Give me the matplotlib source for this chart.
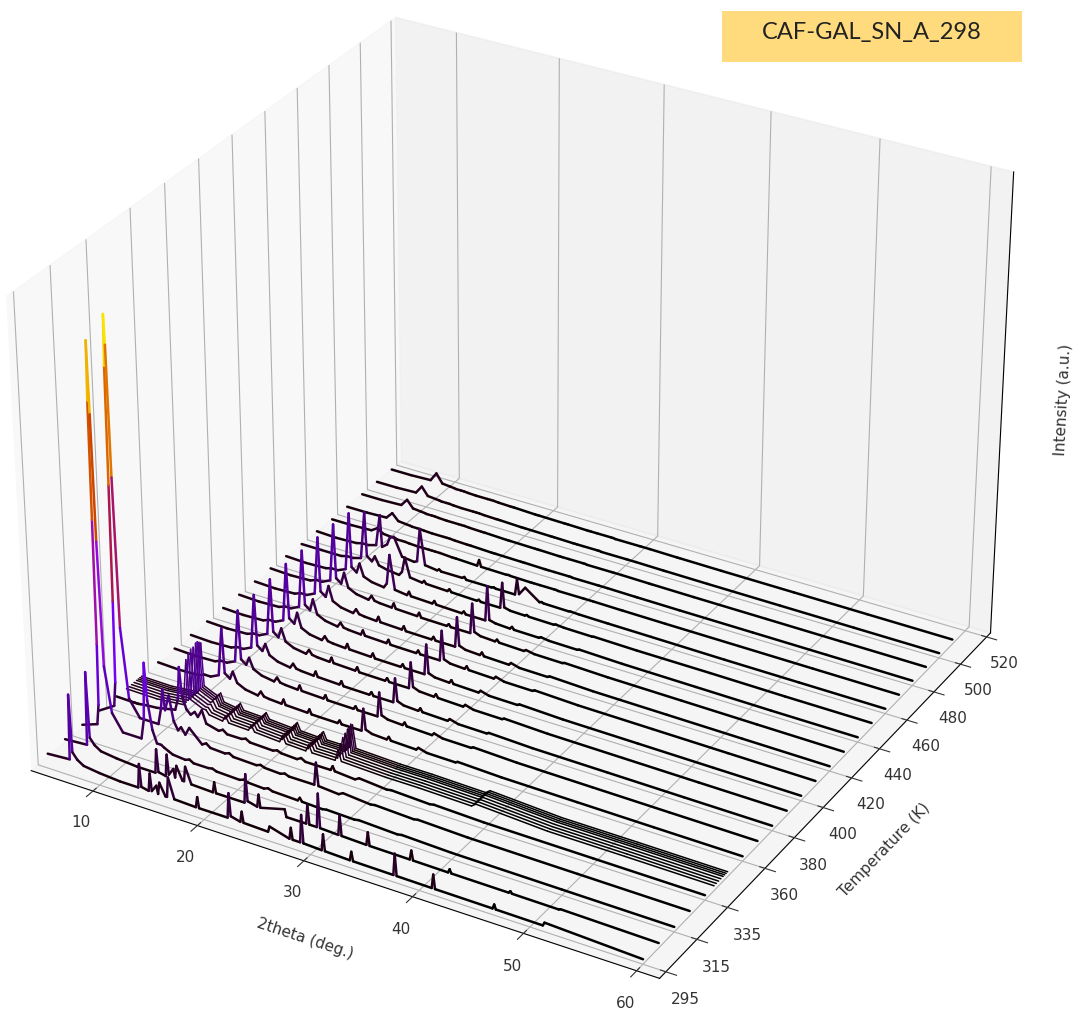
#!/usr/bin/env python3
"""Stacked XRD patterns over temperature, CAF-GAL_SN_A_298."""

import matplotlib
matplotlib.use("Agg")
import matplotlib.pyplot as plt
import numpy as np
from matplotlib.colors import Normalize
from matplotlib.patches import Rectangle
from mpl_toolkits.mplot3d.art3d import Line3DCollection

# ticks
x_ticks = [10, 20, 30, 40, 50, 60]
y_ticks = [295, 315, 335, 360, 380, 400, 420, 440, 460, 480, 500, 520]

# room-temperature phase, sharp peaks
tt_sharp = [5, 7.15, 7.3, 7.45, 7.9, 8.5, 10, 12, 13.75, 13.9, 14.05, 14.75, 14.9, 15.05, 15.5, 15.65, 15.8, 16.35, 16.5,
            16.65, 17.2, 19.25, 19.4, 19.55, 22.25, 22.4, 22.55, 23.45, 23.6, 23.75, 26.05, 26.2, 28.05, 28.2, 28.35,
            29.05, 29.2, 29.35, 31.05, 31.2, 31.35, 33.65, 33.8, 33.95, 37.65, 37.8, 37.95, 41.15, 41.3, 41.45, 46.65,
            46.8, 46.95, 51.15, 51.3, 60]
i_295 = [.036, .04, .2, .06, .045, .035, .03, .026, .026, .085, .03, .026, .07, .028, .045, .026, .055, .026, .026,
         .075, .026, .024, .05, .024, .024, .085, .03, .024, .05, .024, .022, .036, .022, .05, .022, .022, .09, .022,
         .02, .06, .02, .018, .04, .018, .017, .07, .017, .016, .05, .016, .015, .026, .015, .014, .022, .012]
i_305 = [.036, .04, .22, .06, .045, .035, .03, .026, .026, .085, .03, .026, .08, .032, .05, .03, .06, .028, .028,
         .065, .026, .024, .05, .024, .024, .095, .03, .024, .055, .024, .04, .022, .022, .07, .022, .022, .105, .022,
         .02, .07, .02, .018, .05, .018, .017, .04, .017, .016, .025, .016, .015, .02, .015, .014, .016, .012]

# tall peak phase, 315-335 K
tt_tall = [5, 6.5, 6.7, 6.8, 6.88, 6.95, 7.05, 7.12, 7.2, 7.4, 8.0, 9, 10.8, 11.1, 11.3, 11.5, 11.9, 12.3, 12.7, 13,
           13.4, 13.8, 15, 15.4, 15.8, 17.2, 17.6, 18, 20.2, 20.6, 21, 22.5, 22.9, 23.3, 25.7, 25.9, 26.1, 28, 28.4,
           31, 31.4, 35, 35.4, 40, 50, 60]
i_315 = [.036, .05, .1, .25, .55, .83, .97, .8, .5, .2, .09, .05, .05, .1, .24, .15, .08, .05, .05, .045, .04, .035,
         .032, .036, .03, .03, .032, .028, .026, .03, .026, .024, .028, .024, .022, .03, .022, .02, .022, .02, .022,
         .018, .02, .016, .014, .012]
i_325 = [.036, .06, .12, .32, .6, .88, 1.0, .93, .62, .26, .09, .05, .05, .09, .14, .09, .13, .07, .05, .06, .045,
         .065, .034, .04, .032, .03, .034, .028, .026, .03, .026, .024, .028, .024, .024, .08, .024, .02, .026, .02,
         .022, .018, .02, .016, .014, .012]
i_335 = [.036, .035, .035, .035, .035, .035, .035, .035, .035, .036, .038, .04, .05, .08, .16, .09, .06, .05, .06,
         .05, .07, .04, .032, .038, .03, .03, .034, .028, .026, .03, .026, .024, .03, .024, .024, .035, .024, .02,
         .026, .02, .022, .018, .02, .016, .014, .012]

# narrow stack of scans, 341-350 K
temp_cluster = [341, 342.5, 344, 345.5, 347, 348, 349, 350]
tt_cluster = [5, 8, 10.6, 11.0, 11.2, 12.5, 12.8, 13.1, 14.4, 14.7, 15, 16.9, 17.2, 17.5, 19.9, 20.2, 20.5, 22.4,
              22.7, 23, 25.2, 25.5, 25.8, 30, 33, 38, 38.4, 45, 52, 60]
i_cluster_base = [.034, .033, .04, .16, .06, .045, .05, .035, .03, .045, .03, .028, .042, .028, .024, .042, .024,
                  .022, .04, .022, .022, .08, .024, .02, .02, .017, .025, .015, .014, .012]
peak_11 = [.155, .165, .17, .17, .175, .175, .17, .165]
peak_13 = [.045, .045, .048, .05, .052, .052, .055, .055]
peak_25 = [.05, .06, .07, .075, .08, .08, .085, .08]

# high temperature scans, 360-510 K
tt_high = [5, 7, 9, 9.6, 10.2, 11.0, 11.4, 11.6, 12.1, 12.4, 12.8, 13.6, 14.8, 15.1, 15.4, 15.9, 17.1, 17.3, 17.5,
           19.6, 19.8, 20.0, 22.5, 22.7, 22.9, 24.8, 25, 25.2, 25.8, 27.2, 27.4, 27.6, 30, 30.2, 31, 33.7, 33.9, 38,
           45, 52, 60]
i_360 = [.034, .032, .034, .04, .04, .05, .17, .06, .05, .07, .045, .035, .03, .042, .032, .03, .028, .04, .028,
         .026, .036, .025, .024, .032, .024, .024, .08, .03, .024, .022, .03, .022, .02, .026, .02, .019, .022, .018,
         .016, .014, .012]
i_370 = [.034, .032, .034, .04, .04, .05, .18, .06, .05, .07, .045, .035, .03, .042, .032, .03, .028, .04, .028,
         .026, .036, .025, .024, .032, .024, .024, .085, .03, .024, .022, .03, .022, .02, .026, .02, .019, .022, .018,
         .016, .014, .012]
i_380 = [.034, .032, .034, .04, .04, .05, .185, .06, .05, .07, .045, .035, .03, .042, .032, .03, .028, .04, .028,
         .026, .036, .025, .024, .032, .024, .024, .085, .03, .024, .022, .03, .022, .02, .026, .02, .019, .022, .018,
         .016, .014, .012]
i_390 = [.034, .032, .034, .04, .04, .05, .19, .06, .05, .075, .045, .035, .03, .042, .032, .03, .028, .04, .028,
         .026, .036, .025, .024, .032, .024, .024, .09, .03, .024, .022, .03, .022, .02, .026, .02, .019, .022, .018,
         .016, .014, .012]
i_400 = [.034, .032, .034, .04, .04, .05, .195, .06, .05, .08, .045, .035, .03, .042, .032, .03, .028, .04, .028,
         .026, .036, .025, .024, .032, .024, .024, .1, .03, .024, .022, .03, .022, .02, .026, .02, .019, .022, .018,
         .016, .014, .012]
i_410 = [.034, .032, .034, .04, .04, .05, .195, .06, .05, .08, .045, .035, .03, .042, .032, .03, .028, .04, .028,
         .026, .036, .025, .024, .032, .024, .024, .1, .03, .024, .022, .03, .022, .02, .026, .02, .019, .022, .018,
         .016, .014, .012]
i_420 = [.034, .032, .034, .04, .04, .05, .195, .06, .05, .08, .045, .035, .03, .042, .032, .03, .028, .04, .028,
         .026, .036, .025, .024, .032, .024, .024, .1, .03, .024, .022, .03, .022, .02, .026, .02, .019, .022, .018,
         .016, .014, .012]
i_430 = [.034, .032, .034, .04, .04, .05, .195, .06, .05, .08, .045, .035, .03, .042, .032, .03, .028, .04, .028,
         .026, .036, .025, .024, .03, .024, .024, .1, .03, .024, .022, .028, .022, .02, .024, .02, .019, .021, .018,
         .016, .014, .012]
i_440 = [.032, .03, .032, .036, .036, .045, .19, .055, .045, .07, .04, .032, .028, .04, .115, .03, .026, .036, .026,
         .024, .032, .024, .022, .028, .022, .022, .11, .026, .022, .02, .026, .02, .019, .022, .019, .018, .02, .017,
         .015, .013, .012]
i_450 = [.03, .03, .03, .034, .034, .04, .16, .05, .04, .055, .035, .03, .026, .036, .075, .028, .024, .03, .024,
         .022, .028, .022, .02, .024, .02, .02, .085, .024, .02, .019, .022, .019, .018, .02, .018, .017, .018, .016,
         .015, .013, .012]
i_460 = [.03, .028, .03, .034, .034, .04, .12, .04, .05, .07, .075, .03, .026, .03, .115, .026, .022, .026, .022,
         .022, .026, .02, .02, .022, .02, .02, .06, .024, .045, .019, .021, .019, .018, .019, .018, .017, .017, .016,
         .014, .013, .012]
i_470 = [.028, .028, .03, .04, .03, .028, .028, .026, .026, .026, .025, .024, .024, .024, .024, .024, .022, .022,
         .022, .02, .036, .02, .019, .02, .019, .018, .018, .018, .018, .018, .018, .017, .017, .017, .017, .016, .016,
         .015, .014, .013, .012]
i_480 = [.028, .028, .03, .046, .03, .028, .027, .026, .026, .026, .025, .024, .024, .024, .024, .023, .022, .022,
         .022, .02, .02, .02, .019, .019, .019, .018, .018, .018, .018, .018, .018, .017, .017, .017, .017, .016, .016,
         .015, .014, .013, .012]
i_490 = [.028, .028, .03, .048, .03, .028, .027, .026, .026, .026, .025, .024, .024, .024, .024, .023, .022, .022,
         .022, .02, .02, .02, .019, .019, .019, .018, .018, .018, .018, .018, .018, .017, .017, .017, .017, .016, .016,
         .015, .014, .013, .012]
i_500 = [.028, .028, .03, .05, .03, .028, .027, .026, .026, .026, .025, .024, .024, .024, .024, .023, .022, .022,
         .022, .02, .02, .02, .019, .019, .019, .018, .018, .018, .018, .018, .018, .017, .017, .017, .017, .016, .016,
         .015, .014, .013, .012]
i_510 = [.028, .028, .03, .052, .03, .028, .027, .026, .026, .026, .025, .024, .024, .024, .024, .023, .022, .022,
         .022, .02, .02, .02, .019, .019, .019, .018, .018, .018, .018, .018, .018, .017, .017, .017, .017, .016, .016,
         .015, .014, .013, .012]


def add_trace(ax, temp, tt, inten, norm, lw=1.8):
    """One scan as a line coloured segment by segment with its intensity."""
    z = np.asarray(inten, dtype=float)
    pts = np.column_stack([tt, np.full(len(tt), temp), z])
    segs = np.stack([pts[:-1], pts[1:]], axis=1)
    lc = Line3DCollection(segs, cmap="gnuplot", norm=norm, linewidths=lw, capstyle="round")
    lc.set_array((z[:-1] + z[1:]) / 2)
    ax.add_collection3d(lc)


def main():
    fig = plt.figure(figsize=(10.9, 10.16), dpi=100)
    ax = fig.add_axes([-0.035, 0.0215, 1.0, 1.0], projection="3d")
    norm = Normalize(0.018, 1)

    add_trace(ax, 295, tt_sharp, i_295, norm)
    add_trace(ax, 305, tt_sharp, i_305, norm)
    add_trace(ax, 315, tt_tall, i_315, norm)
    add_trace(ax, 325, tt_tall, i_325, norm)
    add_trace(ax, 335, tt_tall, i_335, norm)
    for temp, p11, p13, p25 in zip(temp_cluster, peak_11, peak_13, peak_25):
        inten = list(i_cluster_base)
        inten[3] = p11
        inten[6] = p13
        inten[21] = p25
        add_trace(ax, temp, tt_cluster, inten, norm, lw=1.1)
    for temp, inten in zip(range(360, 511, 10), [i_360, i_370, i_380, i_390, i_400, i_410, i_420, i_430,
                                                 i_440, i_450, i_460, i_470, i_480, i_490, i_500, i_510]):
        add_trace(ax, temp, tt_high, inten, norm)

    ax.set_xlim(4, 62)
    ax.set_ylim(291, 523)
    ax.set_zlim(0, 1.12)
    ax.set_xticks(x_ticks)
    ax.set_yticks(y_ticks)
    ax.set_zticks([])
    ax.tick_params(labelsize=11, colors="#333333")
    ax.set_xlabel("2theta (deg.)", fontsize=11, color="#333333", labelpad=10)
    ax.set_ylabel("Temperature (K)", fontsize=11, color="#333333", labelpad=10)
    ax.set_zlabel("Intensity (a.u.)", fontsize=11, color="#333333")
    ax.view_init(elev=30, azim=-60)
    ax.set_box_aspect((4, 4, 3), zoom=1.1)

    fig.add_artist(Rectangle((722 / 1090, 1 - 62 / 1016), 300 / 1090, 51 / 1016,
                             transform=fig.transFigure, facecolor="#FFDB7D", edgecolor="none"))
    fig.text(872 / 1090, 1 - 33 / 1016, "CAF-GAL_SN_A_298", fontsize=17, family="Lato",
             ha="center", va="center", color="#222222")

    fig.savefig("out.png", dpi=100)


if __name__ == "__main__":
    main()
